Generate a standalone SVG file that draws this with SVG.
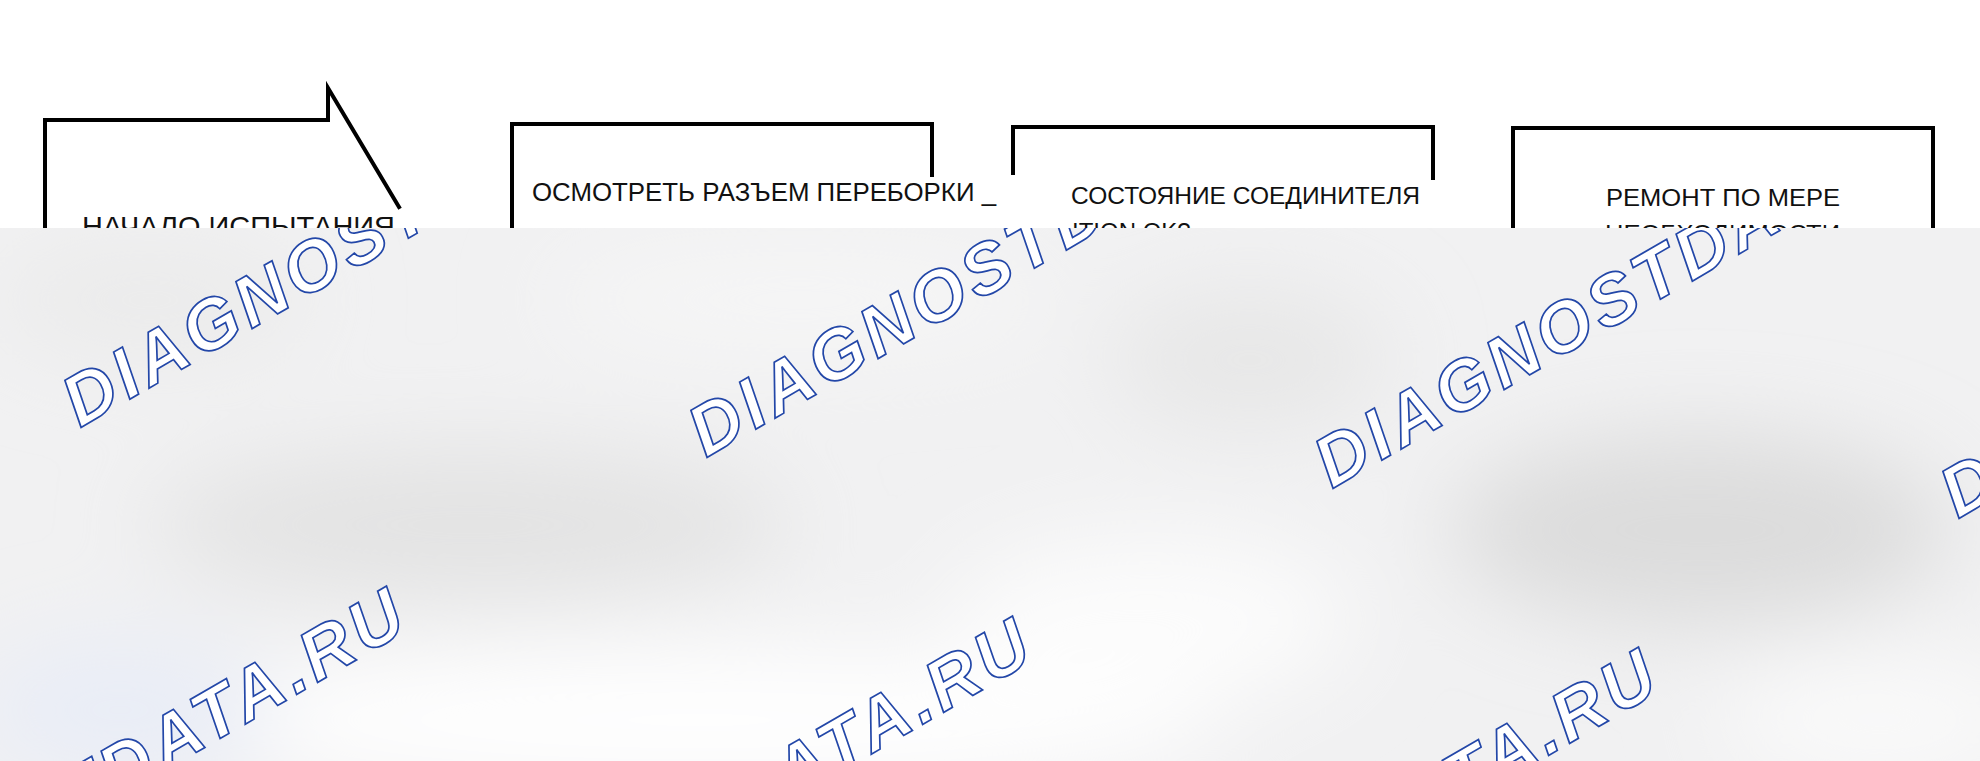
<svg xmlns="http://www.w3.org/2000/svg" width="1980" height="761" viewBox="0 0 1980 761">
<style>
.box{fill:none;stroke:#000;stroke-width:4;stroke-linejoin:miter;stroke-linecap:square}
.lbl{font-family:"Liberation Sans",Arial,sans-serif;font-size:24px;fill:#111}
.wm{font-family:"Liberation Sans",Arial,sans-serif;font-size:71px;font-weight:bold;font-style:italic;letter-spacing:5px;fill:#fff;stroke:#2347a8;stroke-width:1.7}
</style>
<defs>
<clipPath id="ov"><rect x="0" y="228" width="1980" height="533"/></clipPath>
<filter id="blur" x="-50%" y="-50%" width="200%" height="200%"><feGaussianBlur stdDeviation="45"/></filter>
</defs>
<rect width="1980" height="761" fill="#fff"/>
<g id="node-start">
<path class="box" d="M45,240 L45,120 L328,120 L328,88 L399,207"/>
<text class="lbl" x="82" y="236" style="font-size:28px" textLength="313" lengthAdjust="spacingAndGlyphs">НАЧАЛО ИСПЫТАНИЯ</text>
</g>
<g id="node-inspect">
<path class="box" d="M512,240 L512,124 L932,124 L932,175"/>
<text class="lbl" x="532" y="201" style="font-size:25px" textLength="464" lengthAdjust="spacingAndGlyphs">ОСМОТРЕТЬ РАЗЪЕМ ПЕРЕБОРКИ _</text>
</g>
<g id="node-condition">
<path class="box" d="M1013,173 L1013,127 L1433,127 L1433,178"/>
<text class="lbl" x="1071" y="204" textLength="349" lengthAdjust="spacingAndGlyphs">СОСТОЯНИЕ СОЕДИНИТЕЛЯ</text>
<text class="lbl" x="1072" y="240">ITION OK?</text>
</g>
<g id="node-repair">
<path class="box" d="M1513,240 L1513,128 L1933,128 L1933,240"/>
<text class="lbl" x="1606" y="206" textLength="234" lengthAdjust="spacingAndGlyphs">РЕМОНТ ПО МЕРЕ</text>
<text class="lbl" x="1605" y="242" textLength="235" lengthAdjust="spacingAndGlyphs">НЕОБХОДИМОСТИ</text>
</g>
<g id="connectors"/>
<g id="overlay" clip-path="url(#ov)">
<rect x="0" y="228" width="1980" height="533" fill="#f1f1f2"/>
<g filter="url(#blur)">
<ellipse cx="470" cy="525" rx="320" ry="75" fill="#e3e3e3"/>
<ellipse cx="1700" cy="530" rx="250" ry="95" fill="#dcdcdc"/>
<ellipse cx="1250" cy="360" rx="140" ry="70" fill="#e7e7e7"/>
<ellipse cx="150" cy="300" rx="160" ry="60" fill="#ebebeb"/>
<ellipse cx="700" cy="720" rx="520" ry="70" fill="#ffffff"/>
<ellipse cx="1150" cy="620" rx="200" ry="80" fill="#fcfcfc"/>
<ellipse cx="120" cy="710" rx="150" ry="70" fill="#e9edf7"/>
<ellipse cx="1880" cy="720" rx="160" ry="60" fill="#fafafa"/>
<ellipse cx="800" cy="300" rx="250" ry="50" fill="#f6f6f6"/>
</g>
<text class="wm" transform="translate(80,428) rotate(-30)">DIAGNOSTDATA.RU</text>
<text class="wm" transform="translate(706,458) rotate(-30)">DIAGNOSTDATA.RU</text>
<text class="wm" transform="translate(1332,489) rotate(-30)">DIAGNOSTDATA.RU</text>
<text class="wm" transform="translate(1958,519) rotate(-30)">DIAGNOSTDATA.RU</text>
<text class="wm" transform="translate(-243,1006) rotate(-30)">DIAGNOSTDATA.RU</text>
<text class="wm" transform="translate(383,1036) rotate(-30)">DIAGNOSTDATA.RU</text>
<text class="wm" transform="translate(1009,1067) rotate(-30)">DIAGNOSTDATA.RU</text>
</g>
</svg>
